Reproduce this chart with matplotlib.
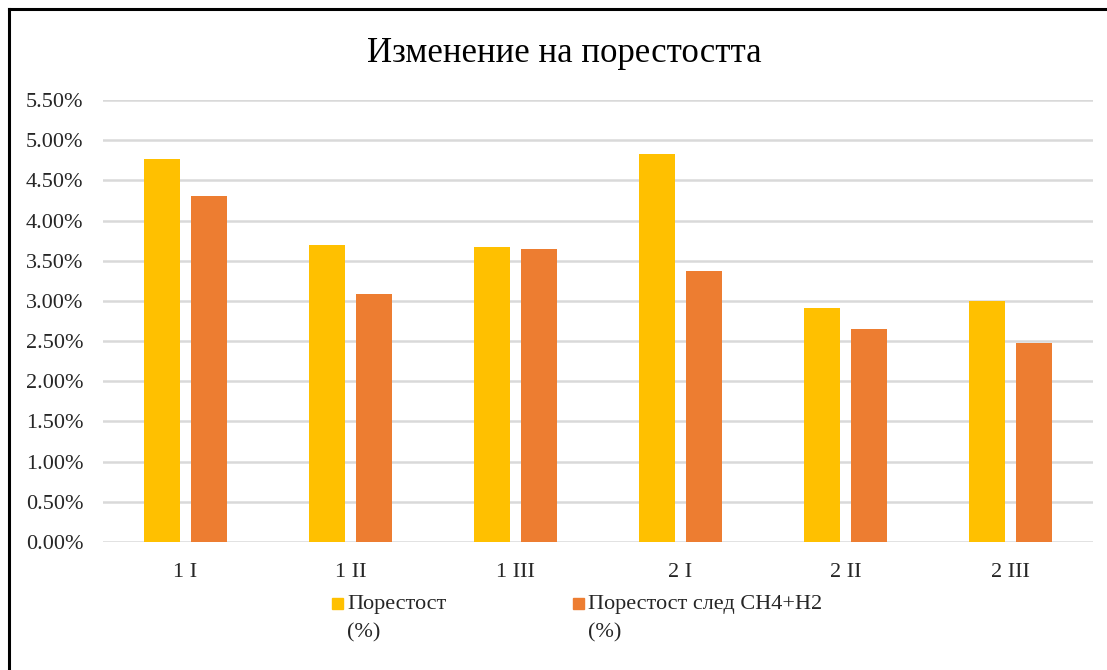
import numpy as np
import matplotlib
matplotlib.use("Agg")
import matplotlib.pyplot as plt
from matplotlib.patches import Rectangle
from matplotlib.lines import Line2D
from matplotlib.ticker import FuncFormatter

plt.rcParams['font.family'] = ['Liberation Serif', 'DejaVu Serif']

# данни
kategorii = ["1 I", "1 II", "1 III", "2 I", "2 II", "2 III"]
porestost = [4.76, 3.70, 3.67, 4.83, 2.91, 3.00]
porestost_sled = [4.31, 3.08, 3.64, 3.37, 2.65, 2.48]
etiketi = ["Порестост\n(%)", "Порестост след CH4+H2\n(%)"]
zaglavie = "Изменение на порестостта"

ZHALT, ORANZH, SIVO = "#FFC000", "#ED7D31", "#D9D9D9"
FS = 16

W, H = 1107, 670
fig = plt.figure(figsize=(W / 100, H / 100), dpi=100)
ax = fig.add_axes([103 / W, 1 - 542 / H, 990 / W, 442 / H])

x = np.arange(len(kategorii))
sh = 0.221
ax.bar(x - 0.143, porestost, sh, color=ZHALT, zorder=3)
ax.bar(x + 0.143, porestost_sled, sh, color=ORANZH, zorder=3)

ax.set_xlim(-0.5, len(kategorii) - 0.5)
ax.set_ylim(0, 5.5)
ax.set_yticks(np.arange(0, 5.51, 0.5))
ax.yaxis.set_major_formatter(FuncFormatter(lambda v, p: f"{v:.2f}%"))
ax.grid(axis='y', color=SIVO, linewidth=1.8, zorder=0)
ax.set_xticks(x)
ax.set_xticklabels(kategorii)
for s in ax.spines.values():
    s.set_visible(False)
ax.tick_params(axis='both', length=0, labelsize=FS, colors='#262626')
ax.tick_params(axis='y', pad=14)
ax.tick_params(axis='x', pad=15)

fig.text(564 / W, 1 - 53 / H, zaglavie, ha='center', va='center', fontsize=25, color='#000000')

# легенда
for x0, cvet, txt in [(332, ZHALT, etiketi[0]), (573, ORANZH, etiketi[1])]:
    fig.patches.append(Rectangle((x0 / W, 1 - 609 / H), 11 / W, 11 / H,
                                 transform=fig.transFigure, color=cvet))
    red1, red2 = txt.split("\n")
    fig.text((x0 + 15) / W, 1 - 605 / H, red1, ha='left', va='center', fontsize=FS, color='#262626')
    fig.text((x0 + 15) / W, 1 - 633 / H, red2, ha='left', va='center', fontsize=FS, color='#262626')

# рамка
fig.add_artist(Line2D([9 / W, 9 / W], [0, 1 - 9 / H], transform=fig.transFigure, color='black', linewidth=2.2))
fig.add_artist(Line2D([9 / W, 1], [1 - 9 / H, 1 - 9 / H], transform=fig.transFigure, color='black', linewidth=2.2))

fig.savefig("out.png", dpi=100, facecolor='white')
